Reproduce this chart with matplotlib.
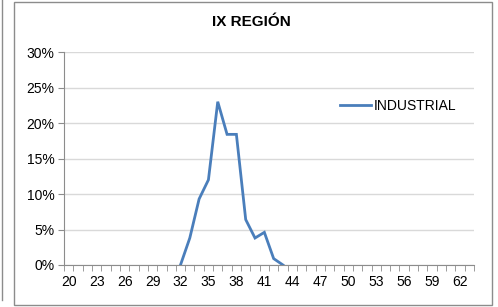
import numpy as np
import matplotlib.pyplot as plt
from matplotlib.patches import Rectangle
from matplotlib.lines import Line2D

plt.rcParams['font.family'] = ['Liberation Sans', 'DejaVu Sans']

# categories (age) and share of workers, only 32..43 have values
ages = list(range(20, 64))
data_ages = [32, 33, 34, 35, 36, 37, 38, 39, 40, 41, 42, 43]
industrial = [0.0, 3.8, 9.3, 12.0, 23.0, 18.4, 18.4, 6.4, 3.8, 4.6, 0.9, 0.0]
tick_labels = [str(a) for a in range(20, 63, 3)]

series = {a: np.nan for a in ages}
for a, v in zip(data_ages, industrial):
    series[a] = v / 100.0

fig = plt.figure(figsize=(4.98, 3.07), dpi=100)

# outer chart frame and the neighbouring cell border
fig.patches.append(Rectangle((14 / 498, 2 / 307), 478 / 498, 303 / 307,
                             transform=fig.transFigure, fill=False,
                             edgecolor='#8c8c8c', linewidth=1.0))
fig.lines.append(Line2D([2 / 498, 2 / 498], [7 / 307, 1.0],
                        transform=fig.transFigure, color='#8c8c8c', linewidth=1.0))

ax = fig.add_axes([64 / 498, 42 / 307, 410 / 498, 213 / 307])

x = np.arange(len(ages))
y = np.array([series[a] for a in ages])
line, = ax.plot(x, y, color='#4A7EBB', linewidth=2.0, solid_joinstyle='miter')

ax.set_xlim(-0.5, len(ages) - 0.5)
ax.set_ylim(0, 0.30)
ax.set_yticks(np.arange(0, 0.31, 0.05))
ax.set_yticklabels([f'{int(round(v * 100))}%' for v in np.arange(0, 0.31, 0.05)])
ax.yaxis.grid(True, color='#d9d9d9', linewidth=1.0)
ax.set_axisbelow(True)

ax.set_xticks([ages.index(int(t)) for t in tick_labels])
ax.set_xticklabels(tick_labels)
ax.set_xticks(np.arange(-0.5, len(ages)), minor=True)
ax.tick_params(axis='x', which='major', length=0, pad=7, labelsize=10)
ax.tick_params(axis='x', which='minor', length=4, color='#8c8c8c', direction='out')
ax.tick_params(axis='y', length=4, color='#8c8c8c', labelsize=10, pad=3)

for side in ['top', 'right']:
    ax.spines[side].set_visible(False)
ax.spines['left'].set_color('#8c8c8c')
ax.spines['bottom'].set_color('#8c8c8c')

fig.text(251 / 498, 1 - 22 / 307, 'IX REGIÓN', ha='center', va='center',
         fontsize=11, fontweight='bold')

ax.legend([line], ['INDUSTRIAL'], loc='center left', frameon=False,
          bbox_to_anchor=(0.66, 0.745), fontsize=10, handlelength=2.2,
          handletextpad=0.2, borderaxespad=0)

fig.savefig('out.png', dpi=100)
